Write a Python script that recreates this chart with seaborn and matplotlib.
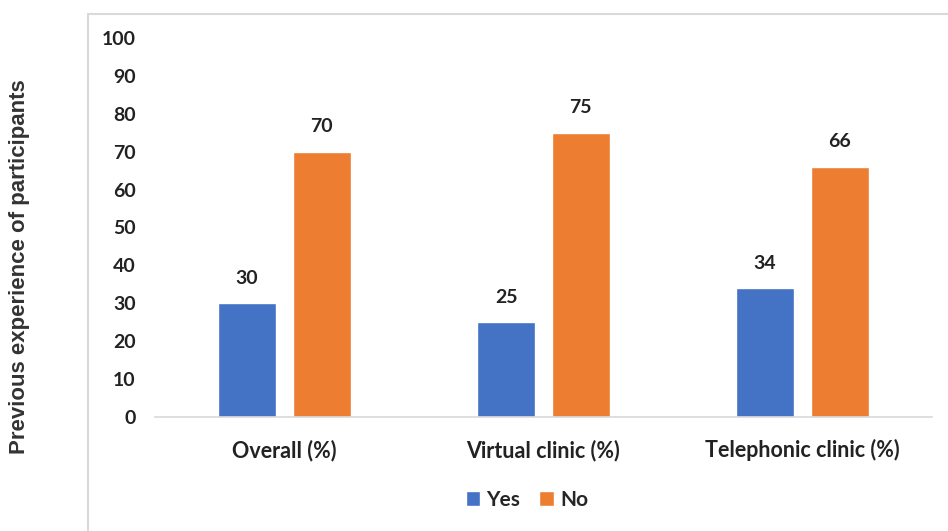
import matplotlib
matplotlib.use("Agg")
import matplotlib.pyplot as plt
from matplotlib.lines import Line2D
from matplotlib.patches import Patch
import seaborn as sns
import pandas as pd

categories = ["Overall (%)", "Virtual clinic (%)", "Telephonic clinic (%)"]
yes_values = [30, 25, 34]
no_values = [70, 75, 66]
series = ["Yes", "No"]
colors = {"Yes": "#4472C4", "No": "#ED7D31"}
y_ticks = [0, 10, 20, 30, 40, 50, 60, 70, 80, 90, 100]

df = pd.DataFrame({
    "category": categories * 2,
    "answer": ["Yes"] * len(categories) + ["No"] * len(categories),
    "value": yes_values + no_values,
})

sns.set_theme(style="white")
plt.rcParams["font.family"] = ["Lato", "DejaVu Sans"]

fig = plt.figure(figsize=(9.48, 5.31), dpi=100)
ax = fig.add_axes([155 / 948, 1 - 417 / 531, 777 / 948, 379 / 531])

sns.barplot(data=df, x="category", y="value", hue="answer",
            hue_order=series, palette=colors, order=categories,
            width=0.577, gap=0.227, saturation=1, ax=ax, legend=False)

ax.set_xlim(-0.5, 2.5)
ax.set_ylim(0, 100)
ax.set_yticks(y_ticks)
ax.set_yticklabels([str(t) for t in y_ticks], fontsize=14, fontweight="bold",
                   color="#222222")
ax.tick_params(axis="y", length=0, pad=14)
ax.tick_params(axis="x", length=0, pad=16, labelsize=15.5, labelcolor="#222222")
for lbl in ax.get_xticklabels():
    lbl.set_fontweight("bold")
ax.set_xlabel("")
ax.set_ylabel("")

for s in ["top", "right", "left"]:
    ax.spines[s].set_visible(False)
ax.spines["bottom"].set_color("#d9d9d9")
ax.spines["bottom"].set_linewidth(1.2)

for container in ax.containers:
    for bar in container:
        h = bar.get_height()
        ax.annotate(f"{h:.0f}", (bar.get_x() + bar.get_width() / 2, h),
                    xytext=(0, 18), textcoords="offset points",
                    ha="center", va="center", fontsize=14, fontweight="bold",
                    color="#222222")

fig.text(20 / 948, 1 - 267 / 531, "Previous experience of participants",
         rotation=90, ha="center", va="center", fontsize=16,
         fontweight="bold", family=["Liberation Sans", "DejaVu Sans"],
         color="#333333")

# light frame around the chart area (top and left edges)
fig.add_artist(Line2D([88 / 948, 88 / 948], [0, 1 - 14 / 531],
                      transform=fig.transFigure, color="#d9d9d9", lw=1.5))
fig.add_artist(Line2D([88 / 948, 1], [1 - 14 / 531, 1 - 14 / 531],
                      transform=fig.transFigure, color="#d9d9d9", lw=1.5))

handles = [Patch(facecolor=colors[s], label=s) for s in series]
leg = fig.legend(handles=handles, loc="center", bbox_to_anchor=(527 / 948, 1 - 500 / 531),
                 ncol=2, frameon=False, handlelength=0.7, handleheight=0.7,
                 handletextpad=0.3, columnspacing=0.9,
                 prop={"size": 15, "weight": "bold", "family": ["Lato", "DejaVu Sans"]})

fig.savefig("out.png", dpi=100)
